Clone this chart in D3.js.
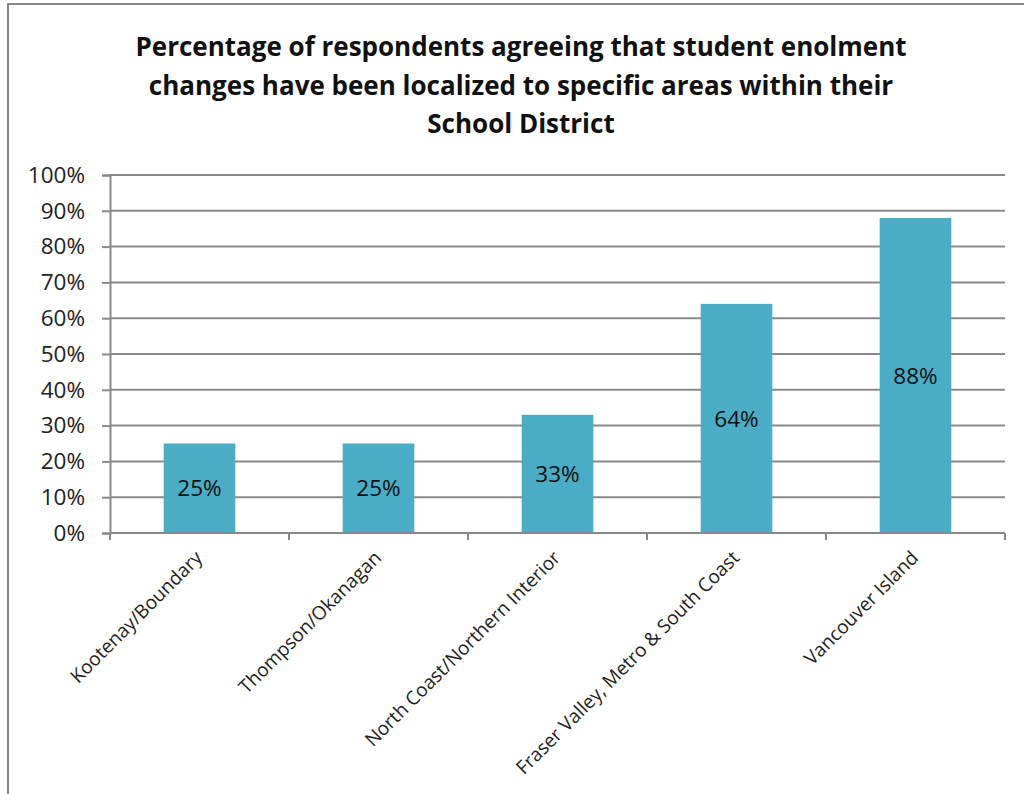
<!DOCTYPE html>
<html>
<head>
<meta charset="utf-8">
<script src="https://cdn.jsdelivr.net/npm/d3@7"></script>
<style>
  html, body { margin: 0; padding: 0; background: #fff; }
  svg { display: block; }
</style>
</head>
<body>
<svg id="chart" width="1024" height="794"></svg>
<script>
// Survey results by region
const categories = [
  "Kootenay/Boundary",
  "Thompson/Okanagan",
  "North Coast/Northern Interior",
  "Fraser Valley, Metro & South Coast",
  "Vancouver Island"
];
const values = [25, 25, 33, 64, 88];
const yTicks = [0, 10, 20, 30, 40, 50, 60, 70, 80, 90, 100];
const titleLines = [
  "Percentage of respondents agreeing that student enolment",
  "changes have been localized to specific areas within their",
  "School District"
];

const svg = d3.select("#chart");
const W = 1024, H = 794;
const plot = { left: 110, right: 1005, top: 175, bottom: 533 };
const gridColor = "#898989";
const barColor = "#4BACC6";
const labelFont = "'Open Sans', 'Noto Sans', sans-serif";

// outer frame
svg.append("rect")
  .attr("x", 8).attr("y", 4)
  .attr("width", W + 20).attr("height", H + 20)
  .attr("fill", "#fff")
  .attr("stroke", "#878787")
  .attr("stroke-width", 2);

// title
svg.append("g")
  .selectAll("text")
  .data(titleLines)
  .join("text")
  .attr("x", 521)
  .attr("y", (d, i) => 56 + i * 38.5)
  .attr("text-anchor", "middle")
  .attr("font-family", "'Open Sans', sans-serif")
  .attr("font-weight", "bold")
  .attr("font-size", 26)
  .attr("fill", "#111")
  .text(d => d);

const x = d3.scaleBand()
  .domain(categories)
  .range([plot.left, plot.right])
  .paddingInner(0.6)
  .paddingOuter(0.3);

const y = d3.scaleLinear()
  .domain([0, 100])
  .range([plot.bottom, plot.top]);

// horizontal gridlines
svg.append("g")
  .selectAll("line")
  .data(yTicks)
  .join("line")
  .attr("x1", plot.left).attr("x2", plot.right)
  .attr("y1", d => y(d)).attr("y2", d => y(d))
  .attr("stroke", gridColor)
  .attr("stroke-width", 2);

// y axis
const yAxis = svg.append("g")
  .attr("transform", `translate(${plot.left},0)`)
  .call(d3.axisLeft(y).tickValues(yTicks).tickFormat(d => d + "%").tickSize(8).tickPadding(17));
yAxis.select(".domain").attr("stroke", gridColor).attr("stroke-width", 2);
yAxis.selectAll(".tick line").attr("stroke", gridColor).attr("stroke-width", 2);
yAxis.selectAll(".tick text")
  .attr("font-family", labelFont)
  .attr("font-size", 22.5)
  .attr("fill", "#222");

// bars
svg.append("g")
  .selectAll("rect")
  .data(values)
  .join("rect")
  .attr("x", (d, i) => x(categories[i]))
  .attr("y", d => y(d))
  .attr("width", x.bandwidth())
  .attr("height", d => y(0) - y(d))
  .attr("fill", barColor);

// value labels centred in each bar
svg.append("g")
  .selectAll("text")
  .data(values)
  .join("text")
  .attr("x", (d, i) => x(categories[i]) + x.bandwidth() / 2)
  .attr("y", d => (y(d) + y(0)) / 2)
  .attr("dy", "0.36em")
  .attr("text-anchor", "middle")
  .attr("font-family", labelFont)
  .attr("font-size", 22.5)
  .attr("fill", "#111")
  .text(d => d + "%");

// x axis with ticks between categories
const boundaries = d3.range(categories.length + 1).map(i => plot.left + i * (plot.right - plot.left) / categories.length);
svg.append("line")
  .attr("x1", plot.left).attr("x2", plot.right)
  .attr("y1", y(0)).attr("y2", y(0))
  .attr("stroke", gridColor).attr("stroke-width", 2);
svg.append("g")
  .selectAll("line")
  .data(boundaries)
  .join("line")
  .attr("x1", d => d).attr("x2", d => d)
  .attr("y1", y(0)).attr("y2", y(0) + 7)
  .attr("stroke", gridColor).attr("stroke-width", 2);

// rotated category labels
svg.append("g")
  .selectAll("text")
  .data(categories)
  .join("text")
  .attr("transform", d => `translate(${x(d) + x.bandwidth() / 2 + 4},${y(0) + 26}) rotate(-45)`)
  .attr("text-anchor", "end")
  .attr("font-family", labelFont)
  .attr("font-size", 19)
  .attr("fill", "#222")
  .text(d => d);
</script>
</body>
</html>
